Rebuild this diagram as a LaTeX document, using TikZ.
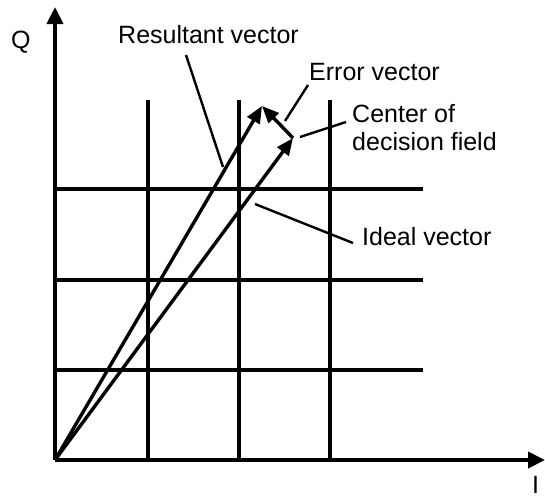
\documentclass[tikz,border=0pt]{standalone}
\usepackage{fontspec}
\setmainfont{Liberation Sans}
\usetikzlibrary{arrows.meta,positioning,calc}
\definecolor{ink}{HTML}{000000}
\tikzset{
  lbl/.style={inner sep=0pt,anchor=base west,text=ink,font=\fontsize{25}{28}\selectfont},
  gridline/.style={ink,line width=3.2pt},
  axis/.style={ink,line width=4pt,-{Triangle[length=17pt,width=16pt]}},
  vec/.style={ink,line width=3.4pt,-{Triangle[length=17pt,width=14pt]}},
  lead/.style={ink,line width=2.4pt}
}

\begin{document}
\begin{tikzpicture}[x=1pt,y=-1pt]
\useasboundingbox (0,0) rectangle (545,499);
% points
\coordinate (O) at (55,460);
\coordinate (Qtop) at (55,7);
\coordinate (Iend) at (545,460);
\coordinate (res) at (262,106);
\coordinate (ideal) at (293,138);
% grid
\foreach \x in {148,239,330}{\draw[gridline] (\x,100) -- (\x,460);}
\foreach \y in {189,280,370}{\draw[gridline] (55,\y) -- (423,\y);}
% axes
\draw[axis] (O) -- (Qtop);
\draw[axis] (O) -- (Iend);
\node[lbl] (qlab) at (11,48) {Q};
\node[lbl] (ilab) at (532,493) {I};
% vectors
\draw[vec] (O) -- (res);
\draw[vec] (O) -- (ideal);
\draw[vec] (ideal) -- (res);
% labels
\node[lbl] (rv) at (118,43) {Resultant vector};
\node[lbl] (ev) at (309,80) {Error vector};
\node[lbl] (cdf1) at (352,122) {Center of};
\node[lbl] (cdf2) at ([yshift=-28pt]cdf1.base west) {decision field};
\node[lbl] (iv) at (362,245) {Ideal vector};
% leaders
\coordinate (rvA) at (186,55);   \coordinate (rvB) at (223,167);
\coordinate (evA) at (308,85);   \coordinate (evB) at (285,121);
\coordinate (cdA) at (346,122);  \coordinate (cdB) at (300,137);
\coordinate (ivA) at (353,243);  \coordinate (ivB) at (255,204);
\draw[lead] (rvA) -- (rvB);
\draw[lead] (evA) -- (evB);
\draw[lead] (cdA) -- (cdB);
\draw[lead] (ivA) -- (ivB);
\end{tikzpicture}
\end{document}
